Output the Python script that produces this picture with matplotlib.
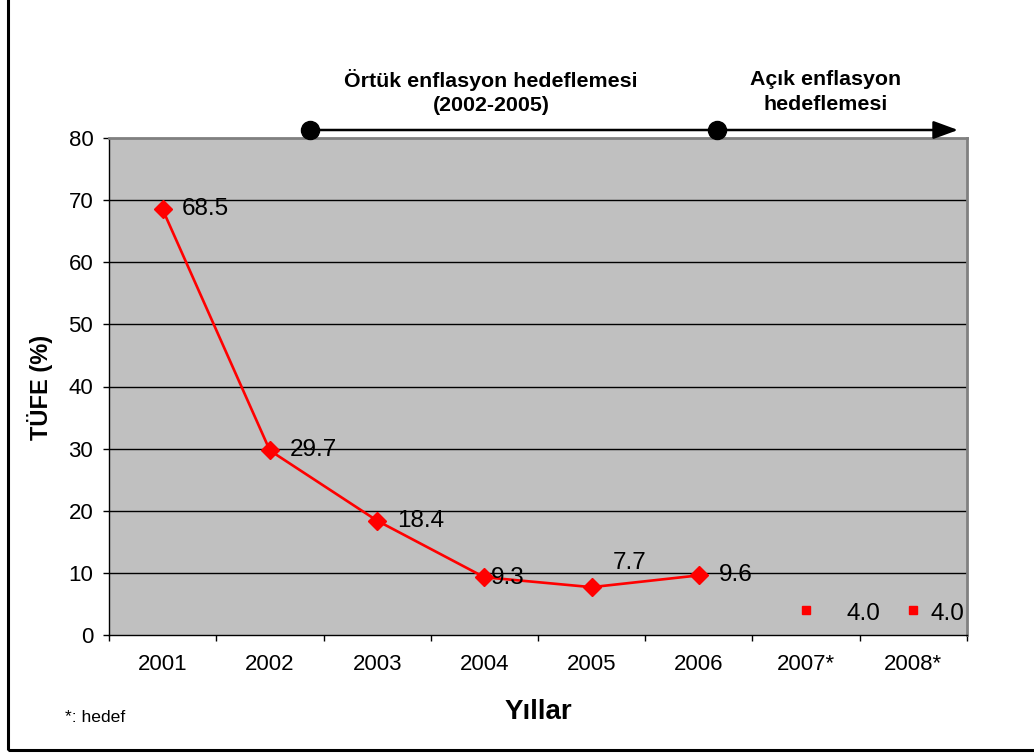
import matplotlib
matplotlib.use("Agg")
import matplotlib.pyplot as plt
from matplotlib.patches import Rectangle

plt.rcParams['font.family'] = ['Liberation Sans', 'DejaVu Sans']

categories = ["2001", "2002", "2003", "2004", "2005", "2006", "2007*", "2008*"]
actual_years = ["2001", "2002", "2003", "2004", "2005", "2006"]
actual_values = [68.5, 29.7, 18.4, 9.3, 7.7, 9.6]
target_years = ["2007*", "2008*"]
target_values = [4.0, 4.0]
y_ticks = [0, 10, 20, 30, 40, 50, 60, 70, 80]

# label offsets in pixels (dx, dy) – styling only
actual_offsets = [(19, 0), (20, 0), (20, 0), (7, -1), (21, 24), (20, 0)]
target_offsets = [(40, -4), (17, -4)]

W, H = 1034, 753
fig = plt.figure(figsize=(W / 100, H / 100), dpi=100)
ax = fig.add_axes([109 / W, 1 - 635 / H, (967 - 109) / W, (635 - 138) / H])
ax.set_facecolor('#C0C0C0')

xi = {c: i for i, c in enumerate(categories)}
ax.set_xlim(-0.5, len(categories) - 0.5)
ax.set_ylim(0, 80)

for v in y_ticks[1:-1]:
    ax.axhline(v, color='black', lw=1.0, zorder=1)

ax.plot([xi[c] for c in actual_years], actual_values, color='red', lw=1.9,
        marker='D', markersize=9.5, markerfacecolor='red', markeredgecolor='red', zorder=3)
ax.plot([xi[c] for c in target_years], target_values, ls='none', marker='s',
        markersize=5.8, color='red', zorder=3)

for c, v, (dx, dy) in zip(actual_years, actual_values, actual_offsets):
    ax.annotate(f"{v:.1f}", (xi[c], v), xytext=(dx * 0.72, dy * 0.72), textcoords='offset points',
                ha='left', va='center', fontsize=17.5, zorder=4)
for c, v, (dx, dy) in zip(target_years, target_values, target_offsets):
    ax.annotate(f"{v:.1f}", (xi[c], v), xytext=(dx * 0.72, dy * 0.72), textcoords='offset points',
                ha='left', va='center', fontsize=17.5, zorder=4)

ax.set_yticks(y_ticks)
ax.set_yticklabels([str(t) for t in y_ticks], fontsize=16)
ax.tick_params(axis='y', direction='out', length=4.3, width=1, pad=7, colors='black')

ax.set_xticks(range(len(categories)))
ax.set_xticklabels(categories, fontsize=16)
ax.set_xticks([i - 0.5 for i in range(len(categories) + 1)], minor=True)
ax.tick_params(axis='x', which='major', length=0, pad=14)
ax.tick_params(axis='x', which='minor', direction='out', length=4.3, width=1, color='black')

for s in ['left', 'bottom']:
    ax.spines[s].set_color('black')
    ax.spines[s].set_linewidth(1.0)
for s in ['top', 'right']:
    ax.spines[s].set_color('#808080')
    ax.spines[s].set_linewidth(2.0)

# timeline annotation above plot
ty = (635 - 130) / 497
tr = ax.transAxes
x1 = (310 - 109) / 858
x2 = (717 - 109) / 858
x3 = (958 - 109) / 858
ax.annotate('', xy=(x3, ty), xytext=(x1, ty), xycoords=tr, textcoords=tr,
            arrowprops=dict(arrowstyle='-|>,head_length=1.5,head_width=0.55', color='black',
                            lw=1.8, shrinkA=0, shrinkB=0), annotation_clip=False)
ax.plot([x1, x2], [ty, ty], ls='none', marker='o', markersize=13, color='black',
        transform=tr, clip_on=False, zorder=5)

fig.text(491 / W, 1 - 92 / H, "Örtük enflasyon hedeflemesi\n(2002-2005)", ha='center', va='center',
         fontsize=15.4, fontweight='bold', linespacing=1.35)
fig.text(826 / W, 1 - 92 / H, "Açık enflasyon\nhedeflemesi", ha='center', va='center',
         fontsize=15.4, fontweight='bold', linespacing=1.35)

fig.text(40 / W, 1 - 387 / H, "TÜFE (%)", rotation=90, ha='center', va='center',
         fontsize=17, fontweight='bold')
fig.text(538 / W, 1 - 712 / H, "Yıllar", ha='center', va='center',
         fontsize=20, fontweight='bold')
fig.text(65 / W, 1 - 718 / H, "*: hedef", ha='left', va='center', fontsize=12.6)

# figure border
fig.patches.append(Rectangle((8 / W, 1 - 750 / H), 1.1, 750 / H + 0.01, transform=fig.transFigure,
                             fill=False, edgecolor='black', lw=2.2, clip_on=False))

fig.savefig('out.png', dpi=100)
